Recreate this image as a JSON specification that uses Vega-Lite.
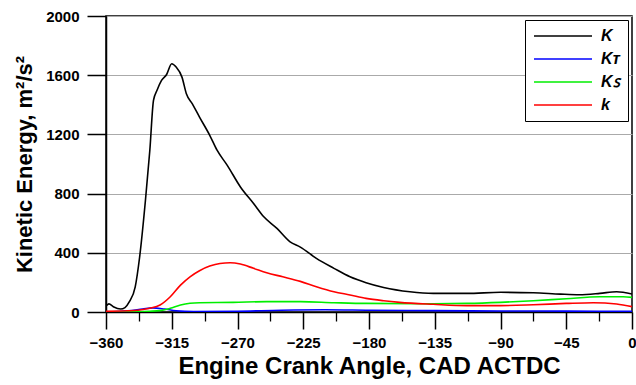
{
  "$schema": "https://vega.github.io/schema/vega-lite/v6.json",
  "width": 526,
  "height": 296,
  "autosize": {"type": "none"},
  "padding": {"left": 106, "top": 16, "right": 4, "bottom": 73},
  "config": {
    "font": "Liberation Sans",
    "view": {"stroke": "black", "strokeWidth": 1.5},
    "axis": {"labelFont": "Liberation Sans", "titleFont": "Liberation Sans"},
    "legend": {"labelFont": "Liberation Sans"}
  },
  "data": {"values": [
    {"s": "K", "x": -360, "y": 40}, {"s": "K", "x": -358, "y": 55}, {"s": "K", "x": -355, "y": 36}, {"s": "K", "x": -350, "y": 20},
    {"s": "K", "x": -347, "y": 30}, {"s": "K", "x": -344, "y": 70}, {"s": "K", "x": -340, "y": 170}, {"s": "K", "x": -337, "y": 370},
    {"s": "K", "x": -333, "y": 755}, {"s": "K", "x": -330, "y": 1093}, {"s": "K", "x": -327.5, "y": 1430}, {"s": "K", "x": -325, "y": 1500},
    {"s": "K", "x": -322, "y": 1565}, {"s": "K", "x": -318.5, "y": 1605}, {"s": "K", "x": -315, "y": 1677}, {"s": "K", "x": -312, "y": 1655},
    {"s": "K", "x": -308, "y": 1587}, {"s": "K", "x": -305, "y": 1475}, {"s": "K", "x": -301, "y": 1408}, {"s": "K", "x": -296, "y": 1317},
    {"s": "K", "x": -289, "y": 1194}, {"s": "K", "x": -284, "y": 1093}, {"s": "K", "x": -277, "y": 991}, {"s": "K", "x": -268, "y": 845},
    {"s": "K", "x": -259, "y": 733}, {"s": "K", "x": -252, "y": 643}, {"s": "K", "x": -243, "y": 565}, {"s": "K", "x": -234, "y": 474},
    {"s": "K", "x": -227, "y": 438}, {"s": "K", "x": -216, "y": 362}, {"s": "K", "x": -204, "y": 295}, {"s": "K", "x": -193, "y": 238},
    {"s": "K", "x": -182, "y": 198}, {"s": "K", "x": -170, "y": 166}, {"s": "K", "x": -152, "y": 137}, {"s": "K", "x": -136, "y": 126},
    {"s": "K", "x": -113, "y": 126}, {"s": "K", "x": -90, "y": 133}, {"s": "K", "x": -67.5, "y": 130}, {"s": "K", "x": -49, "y": 121},
    {"s": "K", "x": -36, "y": 117}, {"s": "K", "x": -22, "y": 126}, {"s": "K", "x": -10.5, "y": 137}, {"s": "K", "x": 0, "y": 121},

    {"s": "Kᴛ", "x": -360, "y": 0}, {"s": "Kᴛ", "x": -345, "y": 8}, {"s": "Kᴛ", "x": -335, "y": 20}, {"s": "Kᴛ", "x": -328, "y": 28},
    {"s": "Kᴛ", "x": -320, "y": 20}, {"s": "Kᴛ", "x": -312, "y": 8}, {"s": "Kᴛ", "x": -300, "y": 3}, {"s": "Kᴛ", "x": -270, "y": 5},
    {"s": "Kᴛ", "x": -240, "y": 12}, {"s": "Kᴛ", "x": -210, "y": 15}, {"s": "Kᴛ", "x": -180, "y": 12}, {"s": "Kᴛ", "x": -135, "y": 9},
    {"s": "Kᴛ", "x": -90, "y": 7}, {"s": "Kᴛ", "x": -45, "y": 6}, {"s": "Kᴛ", "x": 0, "y": 5},

    {"s": "Kꜱ", "x": -360, "y": 0}, {"s": "Kꜱ", "x": -340, "y": 2}, {"s": "Kꜱ", "x": -330, "y": 5}, {"s": "Kꜱ", "x": -323, "y": 9},
    {"s": "Kꜱ", "x": -316, "y": 25}, {"s": "Kꜱ", "x": -309, "y": 47}, {"s": "Kꜱ", "x": -302.5, "y": 59}, {"s": "Kꜱ", "x": -296, "y": 63},
    {"s": "Kꜱ", "x": -273, "y": 65}, {"s": "Kꜱ", "x": -250, "y": 70}, {"s": "Kꜱ", "x": -227, "y": 70}, {"s": "Kꜱ", "x": -204, "y": 63},
    {"s": "Kꜱ", "x": -182, "y": 58}, {"s": "Kꜱ", "x": -136, "y": 56}, {"s": "Kꜱ", "x": -113, "y": 58}, {"s": "Kꜱ", "x": -90, "y": 65},
    {"s": "Kꜱ", "x": -67.5, "y": 76}, {"s": "Kꜱ", "x": -45, "y": 90}, {"s": "Kꜱ", "x": -22, "y": 103}, {"s": "Kꜱ", "x": -6, "y": 103},
    {"s": "Kꜱ", "x": 0, "y": 99},

    {"s": "k", "x": -360, "y": 5}, {"s": "k", "x": -345, "y": 8}, {"s": "k", "x": -338, "y": 12}, {"s": "k", "x": -330, "y": 25},
    {"s": "k", "x": -323, "y": 47}, {"s": "k", "x": -316, "y": 103}, {"s": "k", "x": -309, "y": 182}, {"s": "k", "x": -302.5, "y": 238},
    {"s": "k", "x": -296, "y": 279}, {"s": "k", "x": -289, "y": 310}, {"s": "k", "x": -282, "y": 328}, {"s": "k", "x": -275, "y": 333},
    {"s": "k", "x": -268, "y": 324}, {"s": "k", "x": -259, "y": 295}, {"s": "k", "x": -250, "y": 265}, {"s": "k", "x": -239, "y": 238},
    {"s": "k", "x": -227, "y": 207}, {"s": "k", "x": -216, "y": 171}, {"s": "k", "x": -204, "y": 137}, {"s": "k", "x": -193, "y": 115},
    {"s": "k", "x": -182, "y": 92}, {"s": "k", "x": -170, "y": 76}, {"s": "k", "x": -159, "y": 65}, {"s": "k", "x": -136, "y": 52},
    {"s": "k", "x": -113, "y": 43}, {"s": "k", "x": -90, "y": 43}, {"s": "k", "x": -67.5, "y": 49}, {"s": "k", "x": -45, "y": 58},
    {"s": "k", "x": -26.5, "y": 63}, {"s": "k", "x": -10.5, "y": 54}, {"s": "k", "x": 0, "y": 36}
  ]},
  "resolve": {"axis": {"x": "independent"}},
  "layer": [
    {
      "mark": {"type": "rule", "opacity": 0},
      "encoding": {
        "x": {
          "field": "x", "type": "quantitative",
          "scale": {"domain": [-360, 0], "nice": false},
          "axis": {
            "orient": "bottom",
            "title": null, "labels": false, "domain": false, "grid": false,
            "values": [-337.5, -292.5, -247.5, -202.5, -157.5, -112.5, -67.5, -22.5],
            "tickColor": "black", "tickWidth": 1.3, "tickSize": 9
          }
        }
      }
    },
    {
      "mark": {"type": "line", "strokeWidth": 1.6, "interpolate": "monotone", "clip": true},
      "encoding": {
        "x": {
          "field": "x", "type": "quantitative",
          "scale": {"domain": [-360, 0], "nice": false},
          "axis": {
            "orient": "bottom",
            "title": "Engine Crank Angle, CAD ACTDC",
            "titleFont": "Liberation Sans",
            "titleFontSize": 24, "titleFontWeight": "bold", "titleColor": "black", "titlePadding": 4,
            "values": [-360, -315, -270, -225, -180, -135, -90, -45, 0],
            "format": "d",
            "labelFont": "Liberation Sans",
            "labelFontSize": 15, "labelFontWeight": "bold", "labelColor": "black", "labelPadding": 6,
            "labelOverlap": false, "labelFlush": false,
            "grid": false,
            "domainColor": "black", "domainWidth": 1.5,
            "tickColor": "black", "tickWidth": 1.5, "tickSize": 17
          }
        },
        "y": {
          "field": "y", "type": "quantitative",
          "scale": {"domain": [0, 2000], "nice": false},
          "axis": {
            "title": "Kinetic Energy, m²/s²",
            "titleFont": "Liberation Sans",
            "titleFontSize": 22, "titleFontWeight": "bold", "titleColor": "black", "titlePadding": 9,
            "values": [0, 400, 800, 1200, 1600, 2000],
            "format": "d",
            "labelFont": "Liberation Sans",
            "labelFontSize": 15, "labelFontWeight": "bold", "labelColor": "black", "labelPadding": 8,
            "grid": true, "gridColor": "#aaaaaa", "gridWidth": 1.2,
            "domainColor": "black", "domainWidth": 1.5,
            "tickColor": "black", "tickWidth": 1.5, "tickSize": 19
          }
        },
        "color": {
          "field": "s", "type": "nominal",
          "scale": {"domain": ["K", "Kᴛ", "Kꜱ", "k"], "range": ["#000000", "#0000ff", "#00ee00", "#ff0000"]},
          "legend": {
            "title": null,
            "orient": "top-right",
            "offset": 4,
            "strokeColor": "black",
            "fillColor": "white",
            "padding": 8,
            "symbolType": "stroke",
            "symbolSize": 3364,
            "clipHeight": 16,
            "symbolStrokeWidth": 1.5,
            "labelFont": "Liberation Sans",
            "labelFontSize": 16,
            "labelFontWeight": "bold",
            "labelFontStyle": "italic",
            "labelColor": "black",
            "rowPadding": 7,
            "labelOffset": 8
          }
        }
      }
    }
  ]
}
